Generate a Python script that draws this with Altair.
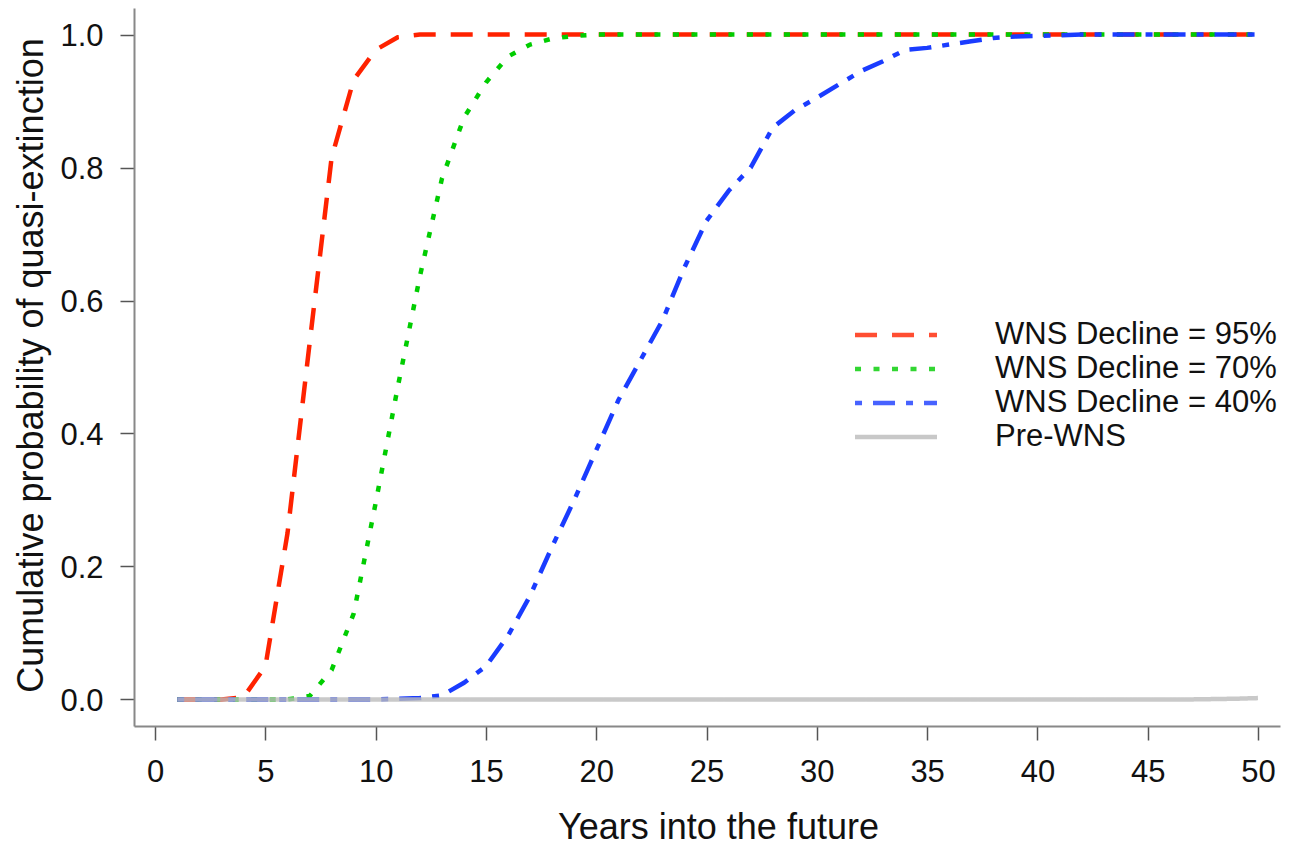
import altair as alt
import pandas as pd

years = list(range(1, 51))

series_names = ["WNS Decline = 95%", "WNS Decline = 70%", "WNS Decline = 40%", "Pre-WNS"]
series_colors = ["#ff2200", "#00cd00", "#1a3cff", "#bbbbbb"]
series_dashes = [[22, 15], [6, 12.5], [7, 11, 22, 11], [1, 0]]

decline_95 = [0, 0, 0, 0.003, 0.05, 0.25, 0.535, 0.815, 0.932, 0.977, 0.996] + [1.0] * 39
decline_70 = [0, 0, 0, 0, 0, 0, 0.005, 0.044, 0.129, 0.296, 0.47, 0.636, 0.783, 0.875,
              0.928, 0.967, 0.985, 0.994, 0.998] + [1.0] * 31
decline_40 = [0] * 10 + [0.001, 0.002, 0.006, 0.025, 0.05, 0.096, 0.156, 0.23, 0.30, 0.375,
                         0.45, 0.51, 0.57, 0.65, 0.72, 0.765, 0.80, 0.86, 0.886, 0.905,
                         0.925, 0.945, 0.96, 0.977, 0.98, 0.985, 0.99, 0.995, 0.997, 0.998,
                         0.999] + [1.0] * 9
pre_wns = [0] * 47 + [0.0005, 0.001, 0.002]

x_ticks = list(range(0, 51, 5))
y_ticks = [0, 0.2, 0.4, 0.6, 0.8, 1.0]

rows = []
for name, vals in zip(series_names, [decline_95, decline_70, decline_40, pre_wns]):
    for yr, v in zip(years, vals):
        rows.append({"year": yr, "p": v, "series": name})
df = pd.DataFrame(rows)

FONT = "Liberation Sans"
TXT = "#111111"

x_enc = alt.X(
    "year:Q",
    scale=alt.Scale(domain=[-0.96, 51.0], nice=False, zero=False),
    axis=alt.Axis(
        values=x_ticks, title="Years into the future", grid=False,
        labelFont=FONT, labelFontSize=31, labelColor=TXT, labelPadding=17,
        tickSize=14, tickColor="#555555", tickWidth=1.5,
        domainColor="#888888", domainWidth=2,
        titleFont=FONT, titleFontSize=36, titleFontWeight="normal", titleColor=TXT,
        titleX=584, titleY=112, titleAlign="center", titleBaseline="alphabetic",
        labelFlush=False, labelOverlap=False,
    ),
)
y_enc = alt.Y(
    "p:Q",
    scale=alt.Scale(domain=[-0.04, 1.04], nice=False, zero=False),
    axis=alt.Axis(
        values=y_ticks, format=".1f", title="Cumulative probability of quasi-extinction",
        grid=False, labelFont=FONT, labelFontSize=31, labelColor=TXT, labelPadding=17,
        labelOffset=2, tickSize=14, tickColor="#555555", tickWidth=1.5,
        domainColor="#888888", domainWidth=2,
        titleFont=FONT, titleFontSize=36, titleFontWeight="normal", titleColor=TXT,
        titleX=-92, titleY=357, titleAlign="center", titleBaseline="alphabetic",
        titleAngle=270, labelFlush=False, labelOverlap=False,
    ),
)
legend_kw = dict(
    title=None, orient="none", legendX=746.5, legendY=311.5, padding=0,
    symbolType="M-4,0H4", symbolSize=420, symbolStrokeWidth=4.5, symbolOffset=0,
    labelFont=FONT, labelFontSize=31, labelColor=TXT, labelOffset=83.5,
    labelLimit=500, rowPadding=2,
)
color_enc = alt.Color(
    "series:N",
    scale=alt.Scale(domain=series_names, range=series_colors),
    legend=alt.Legend(**legend_kw),
)
dash_enc = alt.StrokeDash(
    "series:N",
    scale=alt.Scale(domain=series_names, range=series_dashes),
    legend=alt.Legend(**legend_kw),
)

base = alt.Chart(df).encode(x=x_enc, y=y_enc, color=color_enc, strokeDash=dash_enc)

colored = base.transform_filter(alt.datum.series != "Pre-WNS").mark_line(strokeWidth=4.5)
gray = base.transform_filter(alt.datum.series == "Pre-WNS").mark_line(strokeWidth=4.5, opacity=0.8)

chart = (
    alt.layer(colored, gray)
    .properties(
        width=1146, height=718,
        padding={"left": 126, "top": 0, "right": 1, "bottom": 120},
        autosize=alt.AutoSizeParams(type="none"),
        background="white",
    )
    .configure_view(stroke=None)
)

chart.save("out.html", embed_options={"renderer": "svg", "actions": False})
